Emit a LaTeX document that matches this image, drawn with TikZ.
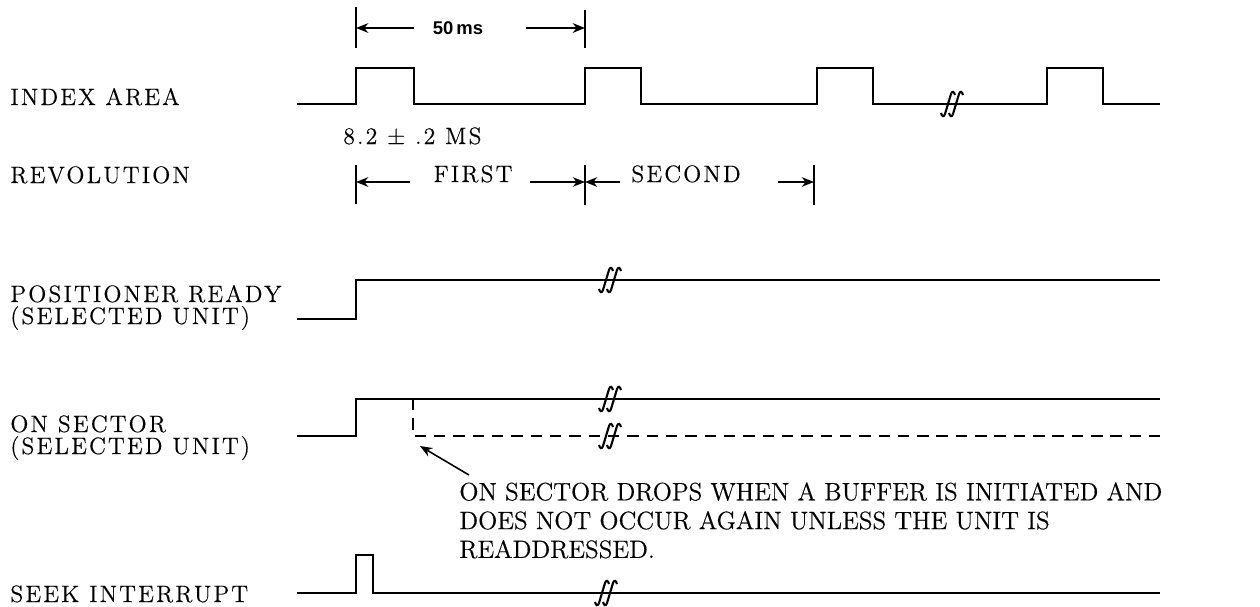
\documentclass[tikz,border=0pt]{standalone}
\usepackage{fontspec}
\newfontfamily\msfam{Liberation Sans}
\newfontfamily\lblfam{lmroman12-regular.otf}[LetterSpace=9, FakeBold=0.4]
\newfontfamily\notefam{lmroman12-regular.otf}[FakeBold=0.4]
\usetikzlibrary{arrows.meta}

\newcommand{\lblfont}{\lblfam\fontsize{13.5}{16}\selectfont}
\newcommand{\notefont}{\notefam\fontsize{14.3}{16.4}\selectfont}
\newcommand{\msfont}{\fontsize{10.5}{12}\selectfont\msfam\bfseries}

\begin{document}
\begin{tikzpicture}[x=0.02cm, y=-0.02cm,
    sig/.style={line width=1.3pt, line join=miter},
    dim/.style={line width=0.8pt},
    tip/.style={-{Stealth[length=7pt,width=5.5pt]}, line width=0.9pt},
    lbl/.style={anchor=base west, inner sep=0pt, font=\lblfont},
    brk/.pic={\foreach \d in {-4,4}
        \draw[line width=1.2pt, shift={(\d,0)}] (-7,9) .. controls (-6,13) and (-4,13) .. (-3,10)
          -- (3,-10) .. controls (4,-13) and (6,-13) .. (7,-9);}]
  \useasboundingbox (0,0) rectangle (1260,606);

  % signal names
  \node[lbl] (idx) at (10,105) {INDEX AREA};
  \node[lbl] (rev) at (10,183) {REVOLUTION};
  \node[lbl] (posA) at (10,302) {POSITIONER READY};
  \node[lbl] (posB) at (10,324) {(SELECTED UNIT)};
  \node[lbl] (onA) at (10,432) {ON SECTOR};
  \node[lbl] (onB) at (10,454) {(SELECTED UNIT)};
  \node[lbl] (seek) at (10,602) {SEEK INTERRUPT};

  % 50 ms period
  \draw[dim] (356,7) -- (356,48);
  \draw[dim] (585,10) -- (585,48);
  \coordinate (a0) at (356,28);
  \coordinate (a1) at (585,28);
  \node[font=\msfont, inner sep=0pt] (ms) at (458,28) {50\,ms};
  \draw[tip] ([xshift=-10.5pt]ms.west) -- (a0);
  \draw[tip] ([xshift=24pt]ms.east) -- (a1);

  % index area
  \draw[sig] (297,104) -- (356,104) -- (356,68) -- (414,68) -- (414,104) -- (585,104)
    -- (585,68) -- (641,68) -- (641,104) -- (817,104) -- (817,68) -- (873,68) -- (873,104)
    -- (1047,104) -- (1047,68) -- (1103,68) -- (1103,104) -- (1160,104);
  \pic at (952,104) {brk};
  \node[lbl, anchor=base west] (width) at (343,144) {8.2 ± .2 MS};

  % revolutions
  \draw[dim] (356,165) -- (356,204);
  \draw[dim] (585,165) -- (585,205);
  \draw[dim] (814,165) -- (814,205);
  \coordinate (r0) at (356,182);
  \coordinate (r1) at (585,182);
  \coordinate (r2) at (814,182);
  \node[lbl, anchor=base] (first) at (473,182) {FIRST};
  \node[lbl, anchor=base] (second) at (686,182) {SECOND};
  \draw[tip] ([xshift=-13pt]first.base west) -- (r0);
  \draw[tip] ([xshift=10pt]first.base east) -- (r1);
  \draw[tip] ([xshift=-6pt]second.base west) -- (r1);
  \draw[tip] ([xshift=21pt]second.base east) -- (r2);

  % positioner ready
  \draw[sig] (297,319) -- (356,319) -- (356,280) -- (1160,280);
  \pic at (610,280) {brk};

  % on sector
  \draw[sig] (297,436) -- (356,436) -- (356,399) -- (1160,399);
  \pic at (610,399) {brk};
  \coordinate (drop) at (413,436);
  \draw[line width=1.1pt, dash pattern=on 6.5pt off 4.5pt] (413,399) -- (drop) -- (1160,436);
  \pic at (610,436) {brk};

  \node[font=\notefont, align=left, inner sep=0pt, anchor=north west] (note) at (459,482)
    {ON SECTOR DROPS WHEN A BUFFER IS INITIATED AND\\
     DOES NOT OCCUR AGAIN UNLESS THE UNIT IS\\
     READDRESSED.};
  \coordinate (hd) at (420,446);
  \draw[tip] ([shift={(10,-7)}]note.north west) -- (hd);

  % seek interrupt
  \draw[sig] (297,593) -- (356,593) -- (356,555) -- (373,555) -- (373,593) -- (1160,593);
  \pic at (606,593) {brk};
\end{tikzpicture}
\end{document}
